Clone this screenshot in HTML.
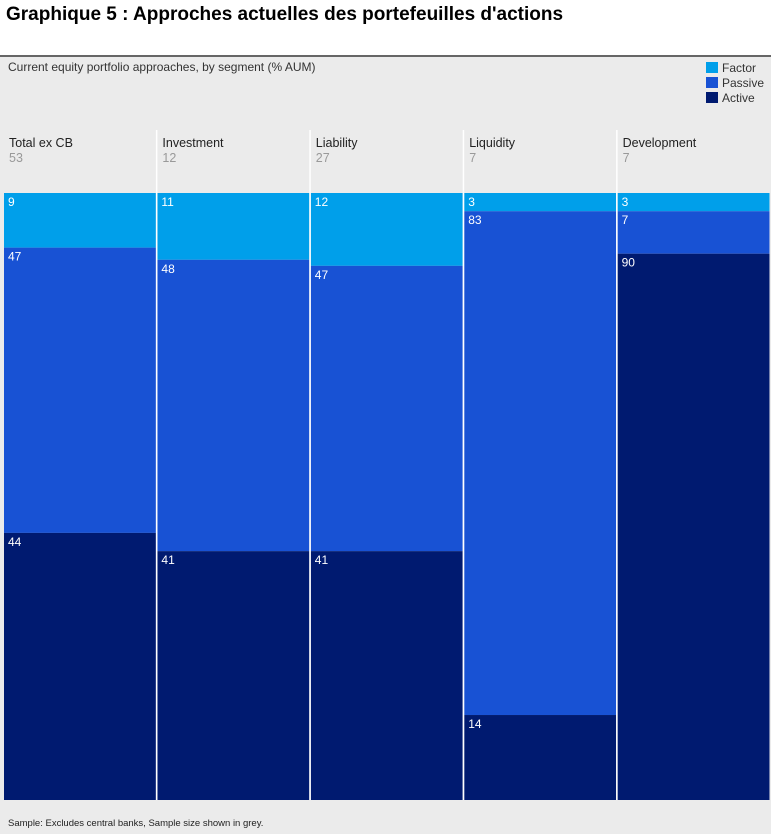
<!DOCTYPE html>
<html><head><meta charset="utf-8"><style>
body{margin:0;background:#fff;width:775px;height:834px;overflow:hidden;font-family:"Liberation Sans",sans-serif}
</style></head><body>
<svg id="c" width="775" height="834" style="position:absolute;left:0;top:0"></svg>
<div style="position:absolute;left:6px;top:4px;font-size:19px;font-weight:bold;color:#000">Graphique 5 : Approches actuelles des portefeuilles d'actions</div>
<script>
const categories=["Total ex CB","Investment","Liability","Liquidity","Development"];
const sampleSizes=[53,12,27,7,7];
const factor=[9,11,12,3,3];
const passive=[47,48,47,83,7];
const active=[44,41,41,14,90];
const seriesNames=["Factor","Passive","Active"];
const colors=["#009fea","#1852d4","#001a70"];
const NS="http://www.w3.org/2000/svg";
const svg=document.getElementById('c');
function mk(t,a,txt){const e=document.createElementNS(NS,t);for(const k in a)e.setAttribute(k,a[k]);if(txt!==undefined)e.textContent=txt;svg.appendChild(e);return e;}
let p=mk('rect',{x:0,y:56,width:771,height:778,fill:'#ebebeb'});


let tl=mk('rect',{x:0,y:55,width:771,height:2,fill:'#666'});


let st=mk('text',{x:8,y:71,'font-size':12,fill:'#333'},'Current equity portfolio approaches, by segment (% AUM)');


const yTop=193,yBot=800,H=yBot-yTop;
const x0=4,colW=153.4;
function yScale(v){return yTop+v/100*H;}
seriesNames.forEach((n,i)=>{
  const ly=62+i*15;
  let r=mk('rect',{x:706,y:ly,width:12,height:11,fill:colors[i]});
  
  
  let t=mk('text',{x:722,y:ly+10,'font-size':12,fill:'#333'},n);
  
  
});
categories.forEach((c,i)=>{
  const x=x0+i*colW, w=colW-1.5;
  const vals=[factor[i],passive[i],active[i]];
  let cum=0;
  vals.forEach((v,j)=>{
    const y1=yScale(cum),y2=yScale(cum+v);
    let r=mk('rect',{x:x,y:y1,width:w,height:y2-y1,fill:colors[j]});
    
    
    let t=mk('text',{x:x+4,y:y1+13,'font-size':12,fill:'#fff'},v);
    
    
    cum+=v;
  });
  let n=mk('text',{x:x+5,y:147,'font-size':12.5,fill:'#222'},c);
  
  
  let s=mk('text',{x:x+5,y:162,'font-size':12.5,fill:'#999'},sampleSizes[i]);
  
  
  if(i>0){let l=mk('rect',{x:x-1.5,y:130,width:1.5,height:yBot-130,fill:'#fff'});
  
  }
});
let f=mk('text',{x:8,y:826,'font-size':9.5,fill:'#222'},'Sample: Excludes central banks, Sample size shown in grey.');


</script>
</body></html>
